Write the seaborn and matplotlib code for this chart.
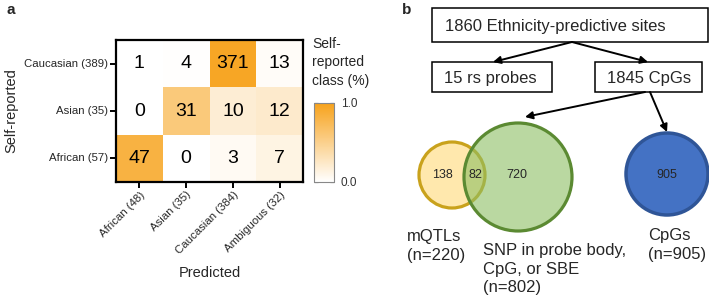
import numpy as np
import pandas as pd
import seaborn as sns
import matplotlib
matplotlib.use("Agg")
import matplotlib.pyplot as plt
from matplotlib.colors import LinearSegmentedColormap
from matplotlib.patches import Rectangle, Circle

# ---------------- data ----------------
self_reported = ["Caucasian (389)", "Asian (35)", "African (57)"]
predicted = ["African (48)", "Asian (35)", "Caucasian (384)", "Ambiguous (32)"]
counts_caucasian = [1, 4, 371, 13]
counts_asian = [0, 31, 10, 12]
counts_african = [47, 0, 3, 7]

top_box = "1860 Ethnicity-predictive sites"
rs_box = "15 rs probes"
cpg_box = "1845 CpGs"
venn_only_mqtl = 138
venn_overlap = 82
venn_only_snp = 720
venn_cpgs = 905
label_mqtl = "mQTLs\n(n=220)"
label_snp = "SNP in probe body,\nCpG, or SBE\n(n=802)"
label_cpgs = "CpGs\n(n=905)"

# ---------------- style ----------------
sns.set_theme(style="white")
plt.rcParams["font.family"] = ["Liberation Sans", "DejaVu Sans"]

W, H = 709, 301
fig = plt.figure(figsize=(W / 100, H / 100), dpi=100)

def fa(x0, y0, x1, y1):
    return [x0 / W, 1 - y1 / H, (x1 - x0) / W, (y1 - y0) / H]

counts = np.array([counts_caucasian, counts_asian, counts_african])
frac = counts / counts.sum(axis=1, keepdims=True)
df_frac = pd.DataFrame(frac, index=self_reported, columns=predicted)
df_counts = pd.DataFrame(counts, index=self_reported, columns=predicted)

cmap = LinearSegmentedColormap.from_list("wo", ["#ffffff", "#f7a21b"])

ax = fig.add_axes(fa(116, 40, 303, 182))
cax = fig.add_axes(fa(314, 103, 334, 182))

sns.heatmap(df_frac, annot=df_counts, fmt="d", cmap=cmap, vmin=0, vmax=1,
            ax=ax, cbar_ax=cax, linewidths=0,
            annot_kws={"size": 14, "color": "black"})

for s in ax.spines.values():
    s.set_visible(True)
    s.set_color("black")
    s.set_linewidth(1.6)
ax.tick_params(axis="both", which="both", direction="out", length=4, width=1.4,
               color="black", left=True, bottom=True, labelsize=8.2, pad=1.5)
ax.set_xticklabels(predicted, rotation=45, ha="right", rotation_mode="anchor")
ax.set_yticklabels(self_reported, rotation=0)
ax.set_xlabel("Predicted", fontsize=10.5, labelpad=7)
ax.set_ylabel("Self-reported", fontsize=10.5, labelpad=4)

cbar = ax.collections[0].colorbar
cbar.set_ticks([0, 0.5, 1.0])
cbar.set_ticklabels(["0.0", "", "1.0"])
cax.tick_params(axis="y", direction="in", length=3, width=0.8, left=True, right=True,
                color="black", pad=5, labelsize=8.5, labelcolor="#333333")
cbar.outline.set_visible(True)
cbar.outline.set_edgecolor("#888888")
cbar.outline.set_linewidth(0.8)

fig.text(312 / W, 1 - 37 / H, "Self-\nreported\nclass (%)", fontsize=10,
         ha="left", va="top", linespacing=1.4)

fig.text(6 / W, 1 - 10 / H, "a", fontsize=11, fontweight="bold", ha="left", va="center")
fig.text(402 / W, 1 - 10 / H, "b", fontsize=11, fontweight="bold", ha="left", va="center")

# ---------------- panel b ----------------
pb = fig.add_axes([0, 0, 1, 1])
pb.set_xlim(0, W)
pb.set_ylim(H, 0)
pb.axis("off")

def box(x0, y0, x1, y1, txt, tx):
    pb.add_patch(Rectangle((x0, y0), x1 - x0, y1 - y0, facecolor="white",
                           edgecolor="black", lw=1.1))
    pb.text(tx, (y0 + y1) / 2 + 1, txt, fontsize=12, ha="left", va="center")

box(432, 8, 708, 42, top_box, 445)
box(432, 62, 552, 92, rs_box, 444)
box(595, 62, 702, 92, cpg_box, 607)

def arrow(p0, p1):
    pb.annotate("", xy=p1, xytext=p0,
                arrowprops=dict(arrowstyle="-|>", color="black", lw=1.4,
                                mutation_scale=11, shrinkA=0, shrinkB=0))

arrow((572, 42), (493, 62))
arrow((572, 42), (648, 62))
arrow((645, 92), (525, 117))
arrow((650, 92), (667, 132))

pb.add_patch(Circle((452, 175), 33, facecolor="#ffe8ad", edgecolor="#c9a21c", lw=2.3))
pb.add_patch(Circle((518, 177), 54, facecolor=(0.55, 0.75, 0.39, 0.6),
                    edgecolor="#5b8a32", lw=2.3))
pb.add_patch(Circle((667, 174), 41, facecolor="#4472c4", edgecolor="#2f5597", lw=2.5))

pb.text(442, 175, str(venn_only_mqtl), fontsize=9, ha="center", va="center")
pb.text(475, 175, str(venn_overlap), fontsize=9, ha="center", va="center")
pb.text(517, 175, str(venn_only_snp), fontsize=9, ha="center", va="center")
pb.text(667, 175, str(venn_cpgs), fontsize=9, ha="center", va="center")

pb.text(407, 229, label_mqtl, fontsize=12, ha="left", va="top", linespacing=1.3)
pb.text(483, 243, label_snp, fontsize=12, ha="left", va="top", linespacing=1.3)
pb.text(648, 228, label_cpgs, fontsize=12, ha="left", va="top", linespacing=1.3)

fig.savefig("out.png", dpi=100)
